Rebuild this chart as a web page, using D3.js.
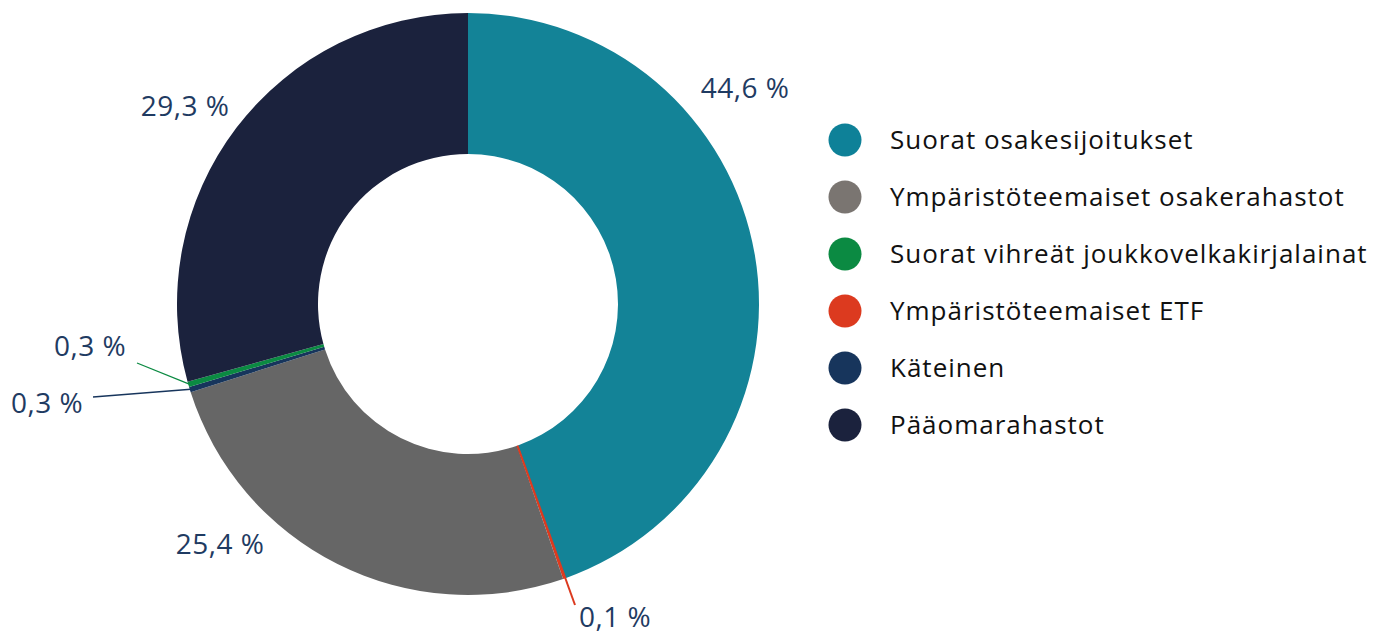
<!DOCTYPE html>
<html>
<head>
<meta charset="utf-8">
<script src="https://cdn.jsdelivr.net/npm/d3@7"></script>
<style>
  body { margin: 0; background: #fff; }
  svg text { font-family: "Open Sans", "Lato", sans-serif; }
</style>
</head>
<body>
<div id="chart"></div>
<script>
// pie order (clockwise from 12 o'clock)
const sliceNames = ['Suorat osakesijoitukset', 'Ympäristöteemaiset ETF', 'Ympäristöteemaiset osakerahastot',
  'Käteinen', 'Suorat vihreät joukkovelkakirjalainat', 'Pääomarahastot']
const sliceValues = [44.6, 0.1, 25.4, 0.3, 0.3, 29.3]
const sliceLabels = ['44,6 %', '0,1 %', '25,4 %', '0,3 %', '0,3 %', '29,3 %']

// legend order
const legendNames = ['Suorat osakesijoitukset', 'Ympäristöteemaiset osakerahastot',
  'Suorat vihreät joukkovelkakirjalainat', 'Ympäristöteemaiset ETF', 'Käteinen', 'Pääomarahastot']

const sliceColors = {
  'Suorat osakesijoitukset': '#138397',
  'Ympäristöteemaiset ETF': '#dc3a1f',
  'Ympäristöteemaiset osakerahastot': '#666666',
  'Käteinen': '#17355c',
  'Suorat vihreät joukkovelkakirjalainat': '#0b8a42',
  'Pääomarahastot': '#1b223d'
}
const legendColors = Object.assign({}, sliceColors, {'Ympäristöteemaiset osakerahastot': '#7a7571', 'Suorat osakesijoitukset': '#0e8198'})

const width = 1384, height = 636
const cx = 468, cy = 304
const outerR = 291, innerR = 150

// manual label placement (like the original), label centre + leader end
const labelLayout = [
  {x: 745, y: 88},
  {x: 615, y: 617, lx: 575, ly: 605},
  {x: 220, y: 544},
  {x: 47, y: 403, lx: 93, ly: 397},
  {x: 90, y: 346, lx: 137, ly: 363},
  {x: 185, y: 106}
]

const svg = d3.select('#chart').append('svg')
  .attr('width', width)
  .attr('height', height)

const g = svg.append('g')
  .attr('transform', `translate(${cx},${cy})`)

const pie = d3.pie().sort(null).value(d => d)
const arcs = pie(sliceValues)

const arc = d3.arc().innerRadius(innerR).outerRadius(outerR)

g.selectAll('path.slice')
  .data(arcs)
  .enter()
  .append('path')
  .attr('class', 'slice')
  .attr('d', arc)
  .attr('fill', (d, i) => sliceColors[sliceNames[i]])

// leader lines for the tiny slices
arcs.forEach(function (d, i) {
  const p = labelLayout[i]
  if (p.lx === undefined) return
  const a = (d.startAngle + d.endAngle) / 2
  const x0 = (outerR - 1) * Math.sin(a), y0 = -(outerR - 1) * Math.cos(a)
  let x1 = x0, y1 = y0
  if (i === 1) { // red line runs through the whole ring
    x1 = innerR * Math.sin(a); y1 = -innerR * Math.cos(a)
  }
  g.append('line')
    .attr('x1', x1).attr('y1', y1)
    .attr('x2', p.lx - cx).attr('y2', p.ly - cy)
    .attr('stroke', sliceColors[sliceNames[i]])
    .attr('stroke-width', i === 1 ? 2 : 1.3)
})

svg.selectAll('text.lbl')
  .data(sliceLabels)
  .enter()
  .append('text')
  .attr('class', 'lbl')
  .attr('x', (d, i) => labelLayout[i].x)
  .attr('y', (d, i) => labelLayout[i].y)
  .attr('dy', '0.35em')
  .attr('text-anchor', 'middle')
  .attr('fill', '#1f3b62')
  .style('font-size', '28px')
  .style('letter-spacing', '0.5px')
  .text(d => d)

const legend = svg.append('g')
  .attr('transform', 'translate(845,140)')

const item = legend.selectAll('g')
  .data(legendNames)
  .enter()
  .append('g')
  .attr('transform', (d, i) => `translate(0,${i * 57})`)

item.append('circle')
  .attr('r', 16.5)
  .attr('fill', d => legendColors[d])

item.append('text')
  .attr('x', 45)
  .attr('dy', '0.35em')
  .attr('fill', '#111')
  .style('font-size', '26px')
  .style('letter-spacing', '1px')
  .text(d => d)
</script>
</body>
</html>
